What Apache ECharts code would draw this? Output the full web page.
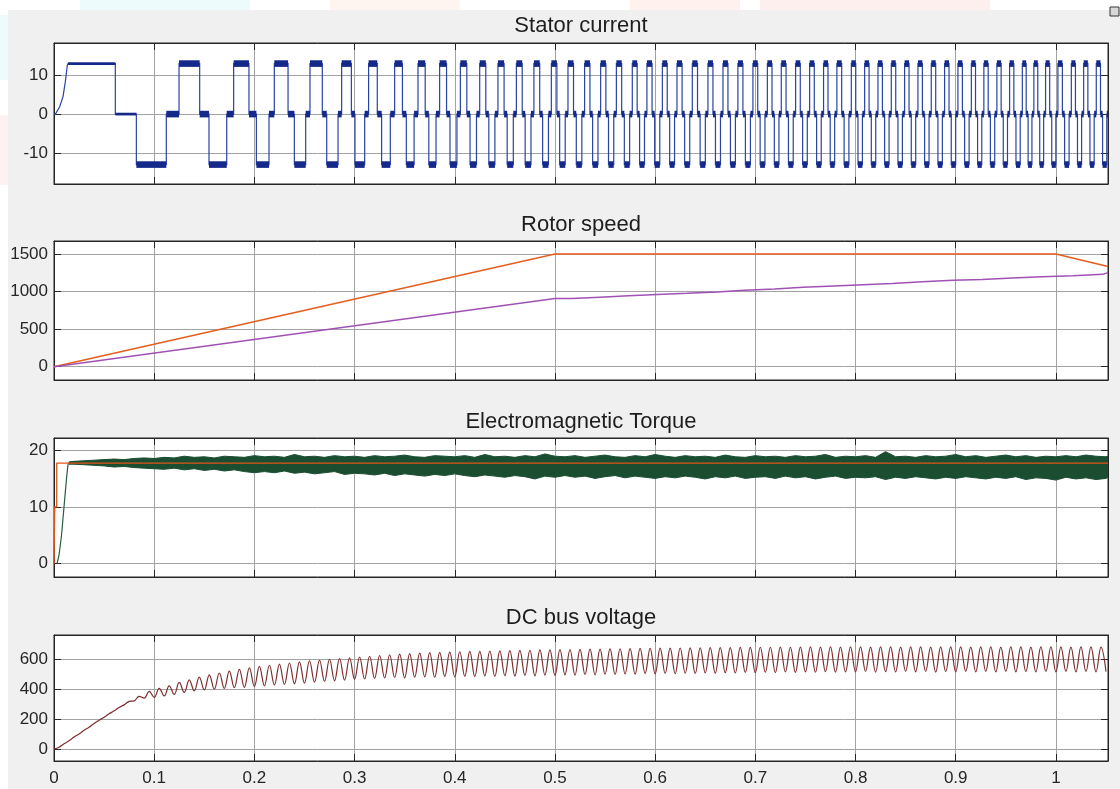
<!DOCTYPE html>
<html>
<head>
<meta charset="utf-8">
<script src="https://cdn.jsdelivr.net/npm/echarts@6/dist/echarts.min.js"></script>
<style>
html,body{margin:0;padding:0;background:#fff;}
#wrap{position:relative;width:1120px;height:789px;overflow:hidden;background:#fff;}
#bg{position:absolute;left:8px;top:10px;width:1112px;height:779px;background:#f0f0f0;}
.tint{position:absolute;}
#chart{position:absolute;left:0;top:0;width:1120px;height:789px;}
</style>
</head>
<body>
<div id="wrap">
  <div class="tint" style="left:80px;top:0;width:170px;height:10px;background:#eefbfd;"></div>
  <div class="tint" style="left:330px;top:0;width:130px;height:10px;background:#fef5f0;"></div>
  <div class="tint" style="left:630px;top:0;width:110px;height:10px;background:#fef1ee;"></div>
  <div class="tint" style="left:760px;top:0;width:230px;height:10px;background:#fdefed;"></div>
  <div class="tint" style="left:0;top:15px;width:8px;height:65px;background:#eefbfd;"></div>
  <div class="tint" style="left:0;top:115px;width:8px;height:70px;background:#fef1f1;"></div>
  <div id="bg"></div>
  <div id="chart"></div>
</div>
<script>
// ================= DATA =================
const xTickValues = [0, 0.1, 0.2, 0.3, 0.4, 0.5, 0.6, 0.7, 0.8, 0.9, 1];
const timeEnd = 1.052;

// --- Stator current ---
const currentTicks = [-10, 0, 10];
const currentStartupT = [0, 0.0014, 0.0057, 0.0090, 0.0113, 0.0133, 0.0140];
const currentStartupV = [0, 0, 1.9, 4.5, 8.3, 12.6, 13];
const currentLevels = [0, -13, 0, 13];           // level after each successive edge
const currentEarlyEdges = [0.0612, 0.0822, 0.1121, 0.1248,
  0.1454, 0.1547, 0.1724, 0.1793,
  0.1946, 0.2020, 0.2146, 0.2199,
  0.2336, 0.2399, 0.2512, 0.2555,
  0.2678, 0.2722, 0.2835, 0.2871,
  0.2968, 0.3004, 0.3101, 0.3140];
const currentCycleStarts = [0.3140, 0.3400, 0.3633, 0.3849, 0.4056, 0.4249, 0.4431, 0.4615, 0.4790, 0.4964,
  0.5130, 0.5296, 0.5456, 0.5613, 0.5772, 0.5918, 0.6072, 0.6218, 0.6371, 0.6527,
  0.6677, 0.6826, 0.6976, 0.7120, 0.7259, 0.7402, 0.7542, 0.7681, 0.7814, 0.7958,
  0.8091, 0.8224, 0.8357, 0.8490, 0.8623, 0.8756, 0.8889, 0.9022, 0.9156, 0.9281,
  0.9411, 0.9538, 0.9665, 0.9780, 0.9897, 1.0020, 1.0154, 1.0277, 1.0403];
const currentPhaseFractions = [1/3, 1/2, 5/6];   // 120 deg on, 60 deg off

// --- Rotor speed ---
const speedTicks = [0, 500, 1000, 1500];
const speedRefT = [0, 0.5, 1.0, 1.052];
const speedRefV = [0, 1500, 1500, 1335];
const speedRampT = [0, 0.5];
const speedRampV = [0, 908];
const speedStepT = [0.5166, 0.5450, 0.5735, 0.6025, 0.6320, 0.6620, 0.6893, 0.7193, 0.7475, 0.7785,
  0.8074, 0.8367, 0.8667, 0.8972, 0.9262, 0.9565, 0.9864, 1.0170, 1.0469];
const speedStepV = [926, 943, 960, 977, 995, 1016, 1034, 1056, 1074, 1091,
  1109, 1131, 1149, 1162, 1180, 1198, 1211, 1229, 1252];

// --- Electromagnetic torque ---
const torqueTicks = [0, 10, 20];
const torqueRefT = [0, 0.0007, 0.0007, 0.0027, 0.0027, 1.052];
const torqueRefV = [0, 0, 10, 10, 17.7, 17.7];
const torqueRiseT = [0.0030, 0.0050, 0.0075, 0.0100, 0.0125, 0.0140, 0.0150];
const torqueRiseV = [0, 1.5, 5, 10, 15, 17.5, 17.7];
const torqueBandFirst = 0.015, torqueBandStep = 0.01;
const torqueUpper = [17.9, 18.0, 18.1, 18.2, 18.3, 18.4, 18.3, 18.5, 18.6, 18.5,
  18.7, 18.6, 18.9, 18.7, 18.8, 18.6, 18.9, 18.8, 18.7, 19.0,
  18.8, 18.9, 18.7, 19.2, 18.8, 18.9, 18.7, 19.0, 18.8, 18.9,
  18.7, 19.0, 18.8, 18.9, 19.1, 18.8, 18.7, 19.0, 18.9, 18.8,
  19.0, 18.7, 19.2, 18.8, 18.9, 18.7, 19.0, 18.8, 19.3, 18.9,
  18.8, 19.0, 18.7, 18.9, 19.1, 18.8, 18.7, 19.0, 18.8, 19.2,
  18.9, 18.7, 19.0, 18.8, 18.9, 18.7, 19.1, 18.8, 18.7, 19.0,
  18.8, 18.9, 18.7, 19.0, 18.8, 18.9, 19.2, 18.7, 18.9, 18.8,
  19.0, 18.7, 19.7, 18.8, 18.9, 18.7, 19.0, 18.8, 18.9, 19.2,
  18.8, 19.0, 18.7, 18.9, 19.1, 18.8, 19.0, 18.7, 18.9, 18.8,
  19.0, 18.8, 19.1, 18.9, 18.8, 18.9];
const torqueLower = [17.5, 17.5, 17.4, 17.3, 17.2, 17.0, 17.1, 16.9, 16.8, 16.7,
  16.6, 16.8, 16.5, 16.7, 16.4, 16.6, 16.3, 16.5, 16.2, 16.0,
  16.2, 16.0, 16.3, 15.9, 16.1, 15.8, 16.0, 16.2, 15.7, 15.9,
  15.8, 15.6, 15.9, 15.5, 15.8, 15.6, 15.4, 15.7, 15.5, 15.8,
  15.5, 15.3, 15.6, 15.4, 15.2, 15.5, 15.3, 14.9, 15.4, 15.2,
  15.5, 15.2, 15.4, 15.0, 15.3, 15.5, 15.1, 15.4, 15.2, 15.0,
  15.3, 15.1, 15.4, 15.2, 14.9, 15.3, 15.1, 15.4, 15.0, 15.2,
  15.3, 15.0, 15.4, 15.1, 15.3, 14.9, 15.2, 15.4, 15.0, 15.2,
  15.1, 15.3, 14.8, 15.2, 15.0, 15.3, 15.1, 14.9, 15.2, 15.0,
  15.3, 15.1, 14.9, 15.2, 15.0, 15.3, 14.8, 15.1, 15.0, 14.7,
  15.2, 14.9, 15.1, 14.8, 15.0, 15.2];

// --- DC bus voltage (100 Hz ripple: trough at k*period, peak half a period later) ---
const dcTicks = [0, 200, 400, 600];
const dcPeriod = 0.01;
const dcTroughs = [0, 35, 80, 125, 170, 212, 255, 295, 322, 340,
  345, 355, 365, 378, 388, 395, 400, 405, 410, 412,
  418, 422, 428, 432, 436, 440, 447, 452, 456, 460,
  465, 468, 472, 475, 478, 476, 480, 482, 479, 484,
  482, 486, 484, 488, 485, 490, 487, 492, 489, 494,
  492, 496, 494, 498, 496, 500, 498, 502, 500, 504,
  502, 505, 503, 507, 505, 509, 506, 510, 508, 512,
  510, 513, 511, 515, 512, 516, 513, 517, 514, 516,
  515, 518, 514, 517, 515, 519, 516, 518, 514, 517,
  515, 518, 516, 519, 515, 518, 516, 517, 515, 518,
  516, 519, 515, 518, 516, 517];
const dcPeaks = [12, 55, 100, 145, 192, 235, 278, 318, 352, 385,
  405, 422, 445, 462, 480, 495, 508, 520, 532, 542,
  552, 560, 568, 575, 582, 590, 595, 600, 605, 610,
  615, 620, 625, 630, 634, 638, 641, 644, 646, 648,
  650, 652, 653, 655, 656, 658, 659, 660, 662, 663,
  664, 665, 666, 667, 668, 669, 670, 671, 672, 673,
  674, 674, 675, 676, 676, 677, 678, 678, 679, 679,
  680, 680, 681, 680, 681, 682, 681, 682, 681, 682,
  682, 681, 683, 682, 681, 683, 682, 681, 682, 683,
  682, 681, 683, 682, 681, 682, 683, 681, 682, 683,
  682, 681, 683, 682, 681];

// ================= STYLE / LAYOUT =================
const FONT = '"Liberation Sans", Arial, Helvetica, sans-serif';
const AXIS_COLOR = '#262626';
const GRID_COLOR = '#a3a3a3';
const CUR_THIN = '#2a44a4';
const CUR_BLOB = '#14298a';
const TORQUE_GREEN = '#1b4d31';
const panels = [
  {title: 'Stator current', titleTop: 15, top: 43, height: 141, yMin: -18, yMax: 18.3, yTicks: currentTicks},
  {title: 'Rotor speed', titleTop: 214, top: 241, height: 139, yMin: -177, yMax: 1673, yTicks: speedTicks},
  {title: 'Electromagnetic Torque', titleTop: 411, top: 438, height: 139, yMin: -2.33, yMax: 22.1, yTicks: torqueTicks},
  {title: 'DC bus voltage', titleTop: 607, top: 635, height: 126, yMin: -80, yMax: 762, yTicks: dcTicks}
];

// ================= BUILD SERIES DATA =================
function zip(t, v) { return t.map((x, i) => [x, v[i]]); }

function buildCurrent() {
  const edges = [];
  currentEarlyEdges.forEach((t, i) => edges.push([t, currentLevels[i % 4]]));
  const n = currentCycleStarts.length;
  for (let i = 0; i < n; i++) {
    const s = currentCycleStarts[i];
    const next = i + 1 < n ? currentCycleStarts[i + 1] : s + (s - currentCycleStarts[i - 1]);
    const p = next - s;
    edges.push([s + p * currentPhaseFractions[0], 0]);
    edges.push([s + p * currentPhaseFractions[1], -13]);
    edges.push([s + p * currentPhaseFractions[2], 0]);
    if (i + 1 < n) edges.push([next, 13]);
  }
  const line = zip(currentStartupT, currentStartupV);
  const flats = [];   // [tStart, tEnd, level]
  let level = 13, segStart = currentStartupT[currentStartupT.length - 1];
  for (const [t, L] of edges) {
    if (t > timeEnd) break;
    line.push([t, level]); line.push([t, L]);
    flats.push([segStart, t, level]);
    level = L; segStart = t;
  }
  line.push([timeEnd, level]);
  flats.push([segStart, timeEnd, level]);
  return {line, flats};
}

function buildSpeed() {
  const pts = zip(speedRampT, speedRampV);
  let last = speedRampV[speedRampV.length - 1];
  speedStepT.forEach((t, i) => { pts.push([t, last]); pts.push([t, speedStepV[i]]); last = speedStepV[i]; });
  pts.push([timeEnd, last]);
  return pts;
}

function torqueBandTimes() {
  return torqueUpper.map((u, i) => Math.min(timeEnd, i === 0 ? torqueBandFirst : 0.01 + i * torqueBandStep));
}

function buildDC() {
  const pts = [];
  dcTroughs.forEach((v, k) => {
    const t = k * dcPeriod;
    if (t <= timeEnd) pts.push([t, v]);
    if (k < dcPeaks.length) {
      const tp = t + dcPeriod / 2;
      if (tp <= timeEnd) pts.push([tp, dcPeaks[k]]);
    }
  });
  return pts;
}

const cur = buildCurrent();
const bandT = torqueBandTimes();

// ================= OPTION =================
const grids = [], xAxes = [], yAxes = [], titles = [];
panels.forEach((p, i) => {
  grids.push({left: 54, top: p.top, width: 1054, height: p.height, show: true,
    backgroundColor: '#ffffff', borderColor: AXIS_COLOR, borderWidth: 1});
  titles.push({text: p.title, left: 581, top: p.titleTop, textAlign: 'center', padding: 0,
    textStyle: {fontSize: 22, fontWeight: 'normal', color: '#1e1e1e', fontFamily: FONT}});
  const tickStyle = {color: AXIS_COLOR, width: 1};
  const fmt = v => String(v);
  xAxes.push({type: 'value', gridIndex: i, min: 0, max: timeEnd, position: 'bottom',
    axisLine: {show: true, onZero: false, lineStyle: tickStyle},
    axisTick: {show: true, inside: true, length: 7, customValues: xTickValues, lineStyle: tickStyle},
    axisLabel: {show: i === 3, customValues: xTickValues, formatter: fmt, margin: 9, fontSize: 17, color: AXIS_COLOR, fontFamily: FONT},
    splitLine: {show: true, lineStyle: {color: GRID_COLOR, width: 1}}});
  xAxes.push({type: 'value', gridIndex: i, min: 0, max: timeEnd, position: 'top',
    axisLine: {show: true, onZero: false, lineStyle: tickStyle},
    axisTick: {show: true, inside: true, length: 7, customValues: xTickValues, lineStyle: tickStyle},
    axisLabel: {show: false}, splitLine: {show: false}});
  yAxes.push({type: 'value', gridIndex: i, min: p.yMin, max: p.yMax, position: 'left',
    axisLine: {show: true, onZero: false, lineStyle: tickStyle},
    axisTick: {show: true, inside: true, length: 7, customValues: p.yTicks, lineStyle: tickStyle},
    axisLabel: {show: true, customValues: p.yTicks, formatter: fmt, margin: 6, fontSize: 17, color: AXIS_COLOR, fontFamily: FONT},
    splitLine: {show: true, lineStyle: {color: GRID_COLOR, width: 1}}});
  yAxes.push({type: 'value', gridIndex: i, min: p.yMin, max: p.yMax, position: 'right',
    axisLine: {show: true, onZero: false, lineStyle: tickStyle},
    axisTick: {show: true, inside: true, length: 7, customValues: p.yTicks, lineStyle: tickStyle},
    axisLabel: {show: false}, splitLine: {show: false}});
});

function lineSeries(gi, data, color, width, extra) {
  return Object.assign({type: 'line', xAxisIndex: gi * 2, yAxisIndex: gi * 2, data: data,
    showSymbol: false, symbol: 'none', silent: true, animation: false,
    lineStyle: {color: color, width: width}, itemStyle: {color: color}}, extra || {});
}

// thin stator-current trace drawn as one polyline through the axis scales
const currentTrace = {
  type: 'custom', xAxisIndex: 0, yAxisIndex: 0, data: [cur.line[0]], silent: true, animation: false, clip: true,
  renderItem: function (params, api) {
    const pts = cur.line.map(p => api.coord(p));
    return {type: 'polyline', shape: {points: pts}, style: {stroke: CUR_THIN, lineWidth: 1.2, fill: null}};
  }
};

// plateau blobs of the chopped stator current
const currentBlobs = {
  type: 'custom', xAxisIndex: 0, yAxisIndex: 0, data: cur.flats, silent: true, animation: false,
  encode: {x: [0, 1], y: 2}, clip: true,
  renderItem: function (params, api) {
    const t0 = api.value(0), t1 = api.value(1), lv = api.value(2);
    const half = t0 < 0.075 ? 0.35 : 0.85;
    const a = api.coord([t0, lv + half]);
    const b = api.coord([t1, lv - half]);
    return {type: 'rect', shape: {x: a[0], y: a[1], width: Math.max(1, b[0] - a[0]), height: b[1] - a[1]},
      style: {fill: CUR_BLOB}};
  }
};

// torque ripple band between the lower and upper envelopes
const torqueBand = {
  type: 'custom', xAxisIndex: 4, yAxisIndex: 4, data: [[bandT[0], torqueUpper[0]]], silent: true, animation: false,
  clip: true,
  renderItem: function (params, api) {
    const up = bandT.map((t, i) => api.coord([t, torqueUpper[i]]));
    const lo = bandT.map((t, i) => api.coord([t, torqueLower[i]])).reverse();
    return {type: 'polygon', shape: {points: up.concat(lo)},
      style: {fill: TORQUE_GREEN, stroke: TORQUE_GREEN, lineWidth: 1}};
  }
};

const series = [
  currentTrace,
  currentBlobs,
  lineSeries(1, zip(speedRefT, speedRefV), '#e65e1e', 1.5),
  lineSeries(1, buildSpeed(), '#a052b4', 1.5),
  lineSeries(2, zip(torqueRiseT, torqueRiseV), '#2a5e40', 1.2),
  torqueBand,
  lineSeries(2, zip(torqueRefT, torqueRefV), '#e0561b', 1.3),
  lineSeries(3, buildDC(), '#7d2e2e', 1.2, {smooth: 0.4})
];

const chart = echarts.init(document.getElementById('chart'), null, {renderer: 'canvas'});
chart.setOption({
  backgroundColor: 'transparent',
  animation: false,
  title: titles,
  grid: grids,
  xAxis: xAxes,
  yAxis: yAxes,
  graphic: [{type: 'rect', shape: {x: 1110, y: 7, width: 9, height: 9},
    style: {fill: '#d8d8d8', stroke: '#333', lineWidth: 1}}],
  series: series
});
</script>
</body>
</html>
